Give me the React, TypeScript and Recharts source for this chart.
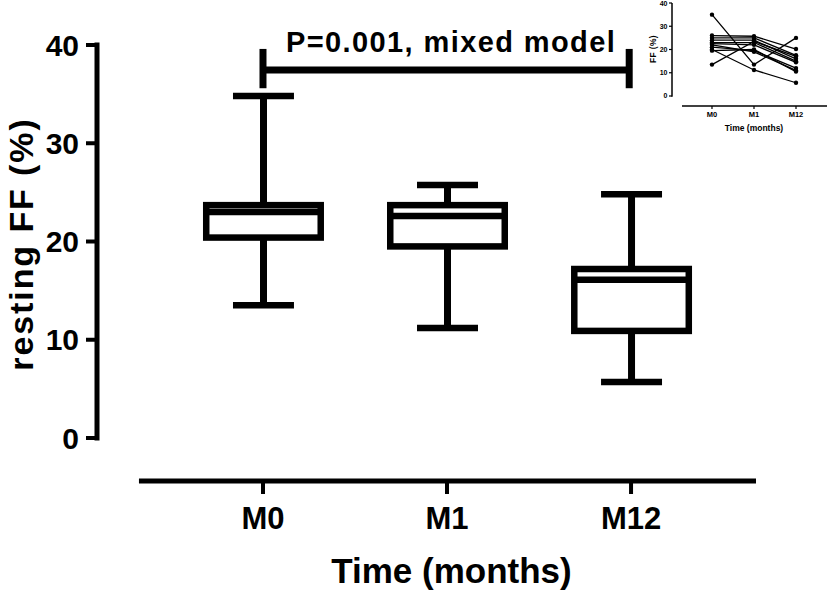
import React from 'react';
import { ComposedChart, LineChart, Line, Bar, XAxis, YAxis, ReferenceLine, Label } from 'recharts';

const FONT = '"Liberation Sans", Arial, Helvetica, sans-serif';

// ---- main box plot data ----
const timeLabels = ['M0', 'M1', 'M12'];
const whiskerMin = [13.5, 11.2, 5.7];
const quartile1 = [20.4, 19.5, 10.9];
const medians = [23.0, 22.6, 16.1];
const quartile3 = [23.7, 23.7, 17.2];
const whiskerMax = [34.8, 25.75, 24.8];
const yTicks = [0, 10, 20, 30, 40];
const xTicks = [0, 1, 2];

// significance bracket (data units)
const pLabel = 'P=0.001, mixed model';
const bracketFrom = 0;
const bracketTo = 1.99;
const bracketLevel = 37.45;
const bracketTop = 39.6;
const bracketBottom = 35.6;

// ---- inset: individual subjects (M0, M1, M12) ----
const subjects = [
  [35, 13.5, 25],
  [13.5, 23.5, 17],
  [20, 11.2, 5.7],
  [26, 25.7, 20.2],
  [25, 25, 17.5],
  [24, 24, 16],
  [23, 23, 15],
  [22.5, 22, 14.5],
  [21, 19.5, 12],
  [19.5, 20, 10.5],
  [22, 19, 11],
];

const boxData = timeLabels.map((t, i) => ({
  x: i,
  label: t,
  min: whiskerMin[i],
  q1: quartile1[i],
  median: medians[i],
  q3: quartile3[i],
  max: whiskerMax[i],
  range: [whiskerMin[i], whiskerMax[i]],
}));

const insetData = timeLabels.map((t, i) => {
  const row: any = { x: i, label: t };
  subjects.forEach((s, j) => {
    row['s' + j] = s[i];
  });
  return row;
});

const BoxShape = (props: any) => {
  const { x, y, width, height, payload } = props;
  const span = payload.max - payload.min;
  const k = span > 0 ? height / span : 0;
  const yOf = (v: number) => y + (payload.max - v) * k;
  const cx = x + width / 2;
  const capHalf = width * 0.252;
  const sw = 6.5;
  return (
    <g>
      <line x1={cx} x2={cx} y1={yOf(payload.max)} y2={yOf(payload.q3)} stroke="#000" strokeWidth={7} />
      <line x1={cx} x2={cx} y1={yOf(payload.q1)} y2={yOf(payload.min)} stroke="#000" strokeWidth={7} />
      <line x1={cx - capHalf} x2={cx + capHalf} y1={yOf(payload.max)} y2={yOf(payload.max)} stroke="#000" strokeWidth={6.5} />
      <line x1={cx - capHalf} x2={cx + capHalf} y1={yOf(payload.min)} y2={yOf(payload.min)} stroke="#000" strokeWidth={6.5} />
      <rect
        x={x + sw / 2}
        y={yOf(payload.q3)}
        width={width - sw}
        height={yOf(payload.q1) - yOf(payload.q3)}
        fill="#fff"
        stroke="#000"
        strokeWidth={sw}
      />
      <line x1={x + sw / 2} x2={x + width - sw / 2} y1={yOf(payload.median)} y2={yOf(payload.median)} stroke="#000" strokeWidth={sw} />
    </g>
  );
};

const boldTick = (size: number) => ({ fill: '#000', fontSize: size, fontWeight: 700, fontFamily: FONT });

const YTitle = (p: any) => {
  const vb = p.viewBox || { x: 0, y: 45, width: 97, height: 436 };
  const x = vb.x + 33;
  const y = vb.y + 199;
  return (
    <text
      x={x}
      y={y}
      transform={`rotate(-90, ${x}, ${y})`}
      textAnchor="middle"
      fill="#000"
      style={{ fontSize: 34, fontWeight: 700, fontFamily: FONT, letterSpacing: 1.9 }}
    >
      resting FF (%)
    </text>
  );
};

const XTitle = (p: any) => {
  const vb = p.viewBox || { x: 97, y: 481, width: 659, height: 109 };
  return (
    <text
      x={vb.x + 354.5}
      y={vb.y + 102}
      textAnchor="middle"
      fill="#000"
      style={{ fontSize: 35, fontWeight: 700, fontFamily: FONT }}
    >
      Time (months)
    </text>
  );
};

const PText = (p: any) => {
  const vb = p.viewBox || { x: 263, y: 70, width: 366 };
  return (
    <text
      x={vb.x + vb.width / 2 + 5}
      y={vb.y - 18}
      textAnchor="middle"
      fill="#000"
      style={{ fontSize: 29, fontWeight: 700, fontFamily: FONT, letterSpacing: 1.4 }}
    >
      {pLabel}
    </text>
  );
};

const InsetYTitle = (p: any) => {
  const vb = p.viewBox || { x: 0, y: 3, width: 72, height: 103 };
  const x = vb.x + 56;
  const y = vb.y + 46;
  return (
    <text
      x={x}
      y={y}
      transform={`rotate(-90, ${x}, ${y})`}
      textAnchor="middle"
      fill="#000"
      style={{ fontSize: 8.5, fontWeight: 700, fontFamily: FONT, letterSpacing: 0.3 }}
    >
      FF (%)
    </text>
  );
};

const InsetXTitle = (p: any) => {
  const vb = p.viewBox || { x: 72, y: 106, width: 155, height: 34 };
  return (
    <text
      x={vb.x + 82}
      y={vb.y + 25}
      textAnchor="middle"
      fill="#000"
      style={{ fontSize: 8.5, fontWeight: 700, fontFamily: FONT }}
    >
      Time (months)
    </text>
  );
};

const Y_DOMAIN: [number, number] = [-4.377, 40];
const X_DOMAIN: [number, number] = [-0.902, 2.679];
const IN_Y_DOMAIN: [number, number] = [-4.3, 40];
const IN_X_DOMAIN: [number, number] = [-0.952, 2.738];

export default function App() {
  return (
    <div style={{ position: 'absolute', left: 0, top: 0, width: 827, height: 590, background: '#fff', overflow: 'hidden' }}>
      <div style={{ position: 'absolute', left: 0, top: 0 }}>
        <ComposedChart width={827} height={590} data={boxData} margin={{ top: 45, right: 71, bottom: 0, left: 0 }}>
          <XAxis
            type="number"
            dataKey="x"
            domain={X_DOMAIN}
            allowDataOverflow
            ticks={xTicks}
            interval={0}
            tickFormatter={(v: number) => timeLabels[v] ?? ''}
            axisLine={false}
            tickLine={{ stroke: '#000', strokeWidth: 4 }}
            tickSize={13}
            tickMargin={13}
            tick={boldTick(31)}
            height={109}
            label={<Label content={XTitle} />}
          />
          <YAxis
            type="number"
            domain={Y_DOMAIN}
            allowDataOverflow
            ticks={yTicks}
            interval={0}
            axisLine={false}
            tickLine={{ stroke: '#000', strokeWidth: 4 }}
            tickSize={11}
            tickMargin={7}
            tick={boldTick(30)}
            width={97}
            label={<Label content={YTitle} />}
          />
          {/* axis lines */}
          <ReferenceLine
            segment={[{ x: X_DOMAIN[0], y: -0.25 }, { x: X_DOMAIN[0], y: 40.25 }]}
            stroke="#000"
            strokeWidth={5}
            ifOverflow="visible"
          />
          <ReferenceLine
            segment={[{ x: -0.674, y: Y_DOMAIN[0] }, { x: X_DOMAIN[1], y: Y_DOMAIN[0] }]}
            stroke="#000"
            strokeWidth={5}
            ifOverflow="visible"
          />
          <Bar dataKey="range" barSize={121} shape={<BoxShape />} isAnimationActive={false} />
          {/* significance bracket */}
          <ReferenceLine
            segment={[{ x: bracketFrom, y: bracketLevel }, { x: bracketTo, y: bracketLevel }]}
            stroke="#000"
            strokeWidth={7}
            ifOverflow="visible"
            label={<Label content={PText} />}
          />
          <ReferenceLine
            segment={[{ x: bracketFrom, y: bracketBottom }, { x: bracketFrom, y: bracketTop }]}
            stroke="#000"
            strokeWidth={7}
            ifOverflow="visible"
          />
          <ReferenceLine
            segment={[{ x: bracketTo, y: bracketBottom }, { x: bracketTo, y: bracketTop }]}
            stroke="#000"
            strokeWidth={7}
            ifOverflow="visible"
          />
        </ComposedChart>
      </div>
      <div style={{ position: 'absolute', left: 600, top: 0 }}>
        <LineChart width={227} height={140} data={insetData} margin={{ top: 3, right: 0, bottom: 0, left: 0 }}>
          <XAxis
            type="number"
            dataKey="x"
            domain={IN_X_DOMAIN}
            allowDataOverflow
            ticks={xTicks}
            interval={0}
            tickFormatter={(v: number) => timeLabels[v] ?? ''}
            axisLine={false}
            tickLine={{ stroke: '#000', strokeWidth: 1.2 }}
            tickSize={3}
            tickMargin={3}
            tick={boldTick(7.5)}
            height={34}
            label={<Label content={InsetXTitle} />}
          />
          <YAxis
            type="number"
            domain={IN_Y_DOMAIN}
            allowDataOverflow
            ticks={yTicks}
            interval={0}
            axisLine={false}
            tickLine={{ stroke: '#000', strokeWidth: 1.2 }}
            tickSize={3}
            tickMargin={1.5}
            tick={boldTick(7)}
            width={72}
            label={<Label content={InsetYTitle} />}
          />
          <ReferenceLine
            segment={[{ x: IN_X_DOMAIN[0], y: -0.3 }, { x: IN_X_DOMAIN[0], y: 40 }]}
            stroke="#000"
            strokeWidth={1.5}
            ifOverflow="visible"
          />
          <ReferenceLine
            segment={[{ x: -0.714, y: IN_Y_DOMAIN[0] }, { x: IN_X_DOMAIN[1], y: IN_Y_DOMAIN[0] }]}
            stroke="#000"
            strokeWidth={1.5}
            ifOverflow="visible"
          />
          {subjects.map((_, j) => (
            <Line
              key={j}
              type="linear"
              dataKey={'s' + j}
              stroke="#000"
              strokeWidth={1.3}
              dot={{ r: 2.2, fill: '#000', stroke: '#000', strokeWidth: 0 }}
              activeDot={false}
              isAnimationActive={false}
            />
          ))}
        </LineChart>
      </div>
    </div>
  );
}
